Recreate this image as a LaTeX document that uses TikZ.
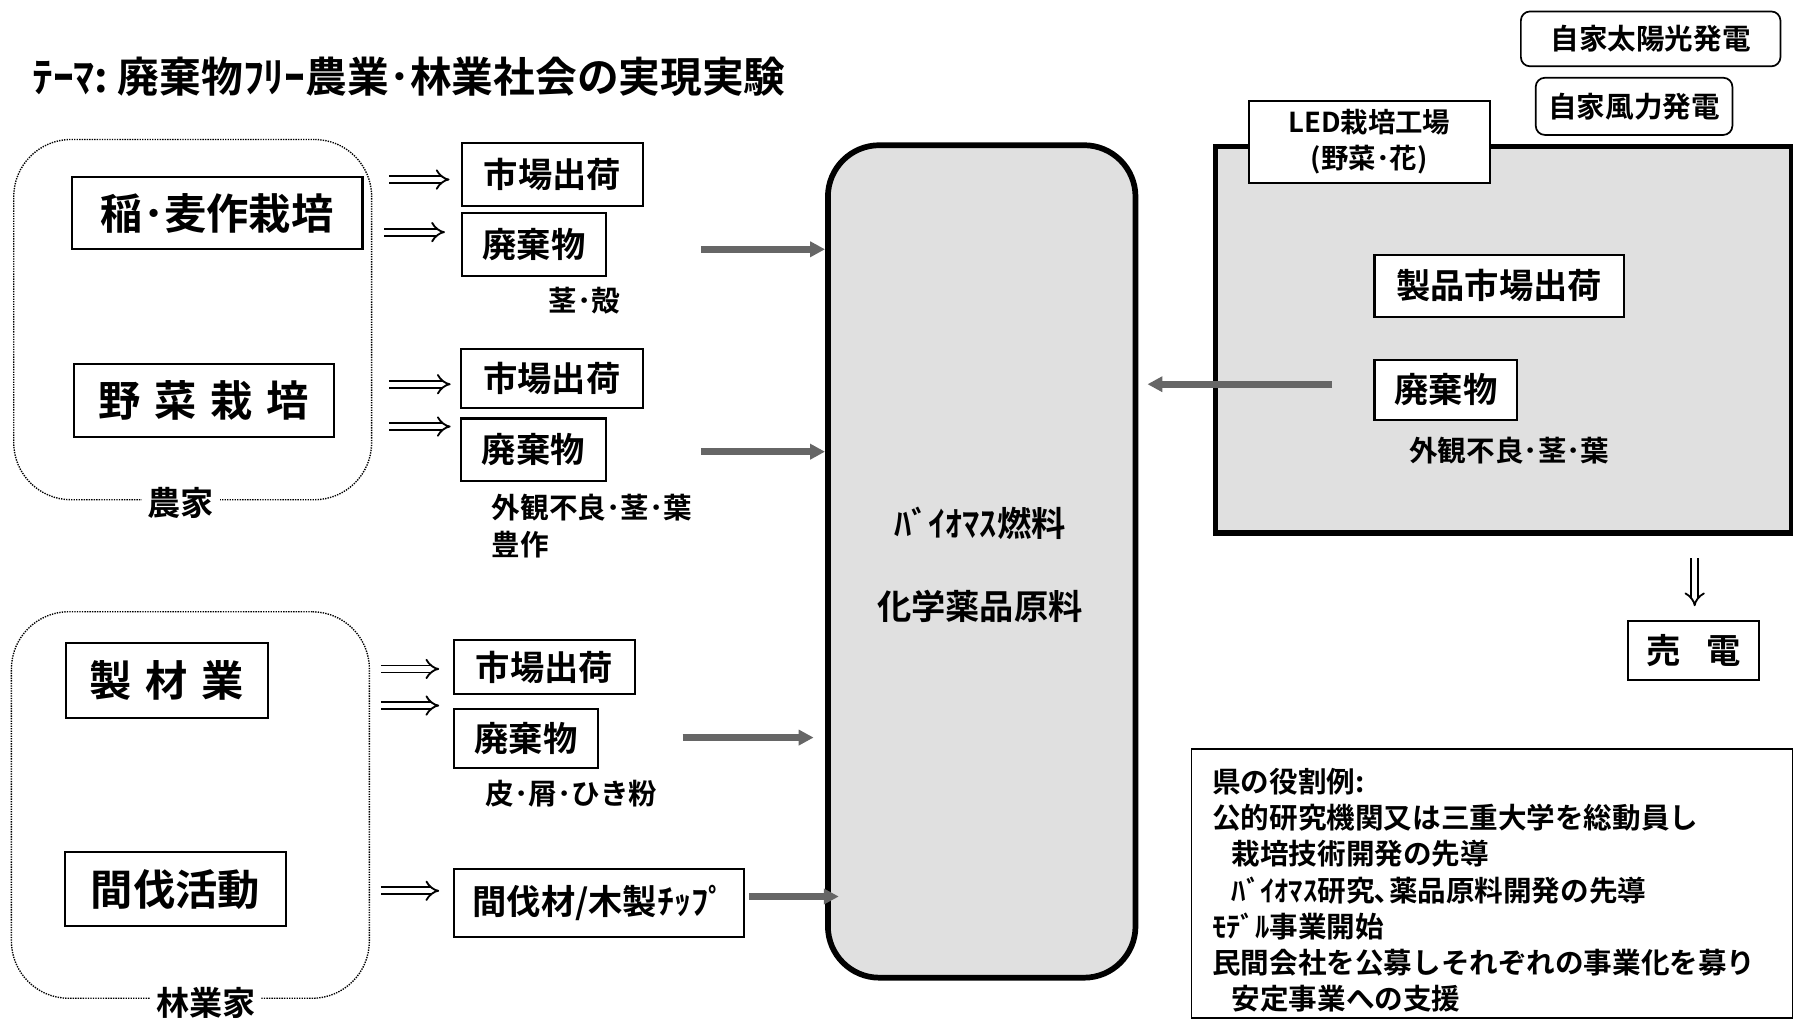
\documentclass[tikz,border=0pt]{standalone}
\usepackage{fontspec}
\setmainfont{Noto Sans CJK JP}[BoldFont={Noto Sans CJK JP Bold}]
\usetikzlibrary{arrows.meta}
\newcommand\fsz[2]{\fontsize{#1pt}{#2pt}\selectfont}
\begin{document}
\begin{tikzpicture}[x=1pt,y=-1pt,
  box/.style={draw, line width=1.8pt, fill=white, inner sep=0pt, font=\bfseries\fsz{30}{36}},
  bigbox/.style={box, font=\bfseries\fsz{37}{44}},
  rbox/.style={box, rounded corners=8pt, line width=1.5pt, font=\bfseries\fsz{25}{30}},
  group/.style={draw, densely dotted, line width=1.2pt, rounded corners=50pt, inner sep=0pt},
  grplbl/.style={fill=white, inner sep=5pt, font=\bfseries\fsz{29}{32}},
  lbl/.style={inner sep=0pt, font=\bfseries\fsz{25}{32}, align=left},
  stipple/.style={draw, line width=5pt, fill=black!12, inner sep=0pt},
  hollow/.style={draw, double, double distance=4.5pt, line width=1.6pt, -{Implies}},
  grayarrow/.style={draw=black!60, line width=6.5pt, -{Triangle[length=13pt,width=13pt]}}
]
\path[use as bounding box] (0,0) rectangle (1568,894);

% title
\node[anchor=west, inner sep=0pt, font=\bfseries\fsz{36.5}{42}] (title) at (28,67) {ﾃｰﾏ:~廃棄物ﾌﾘｰ農業･林業社会の実現実験};

% groups
\node[group, minimum width=313, minimum height=315] (farm) at (168.5,279.5) {};
\node[grplbl] (farmlbl) at (158,440) {農家};
\node[group, minimum width=313, minimum height=338] (forest) at (166.5,704) {};
\node[grplbl] (forestlbl) at (180,877) {林業家};

% left source boxes
\node[bigbox, minimum width=254, minimum height=63] (ine) at (190,186.5) {稲･麦作栽培};
\node[bigbox, minimum width=227, minimum height=64] (yasai) at (178.5,350) {野\hspace{12pt}菜\hspace{12pt}栽\hspace{12pt}培};
\node[bigbox, minimum width=176, minimum height=66] (seizai) at (146,595) {製\hspace{12pt}材\hspace{12pt}業};
\node[bigbox, minimum width=193, minimum height=65] (kanbatsu) at (153.5,777.5) {間伐活動};

% middle boxes
\node[box, minimum width=158, minimum height=55] (m1) at (483,152.5) {市場出荷};
\node[box, minimum width=126, minimum height=55] (w1) at (467,213.5) {廃棄物};
\node[lbl] (w1l) at (511,263) {茎･殻};
\node[box, minimum width=159, minimum height=52] (m2) at (482.5,331) {市場出荷};
\node[box, minimum width=127, minimum height=55] (w2) at (466.5,393.5) {廃棄物};
\node[lbl, anchor=north west] (w2l) at (430,432) {外観不良･茎･葉\\豊作};
\node[box, minimum width=158, minimum height=47] (m3) at (476,583.5) {市場出荷};
\node[box, minimum width=126, minimum height=52] (w3) at (460,646) {廃棄物};
\node[lbl] (w3l) at (500,694) {皮･屑･ひき粉};
\node[box, minimum width=254, minimum height=59] (chip) at (524,789.5) {間伐材/木製ﾁｯﾌﾟ};

% hollow arrows
\coordinate (h1) at (340,157);
\coordinate (h2) at (336,203);
\coordinate (h3) at (340,336);
\coordinate (h4) at (340,373);
\coordinate (h5) at (333,585);
\coordinate (h6) at (333,617);
\coordinate (h7) at (333,779);
\draw[hollow, shorten >=10pt] (h1) -- (h1 -| m1.west);
\draw[hollow, shorten >=14pt] (h2) -- (h2 -| w1.west);
\draw[hollow, shorten >=8pt] (h3) -- (h3 -| m2.west);
\draw[hollow, shorten >=8pt] (h4) -- (h4 -| w2.west);
\draw[hollow, shorten >=12pt] (h5) -- (h5 -| m3.west);
\draw[hollow, shorten >=12pt] (h6) -- (h6 -| w3.west);
\draw[hollow, shorten >=12pt] (h7) -- (h7 -| chip.west);

% central reactor
\node[stipple, rounded corners=45pt, minimum width=269, minimum height=728] (bio) at (858.5,491) {};
\node[inner sep=0pt, font=\bfseries\fsz{30}{34}] (bio1) at (857,458) {ﾊﾞｲｵﾏｽ燃料};
\node[inner sep=0pt, font=\bfseries\fsz{30}{34}] (bio2) at (857,530) {化学薬品原料};

% gray arrows into reactor
\coordinate (g1) at (613,218);
\coordinate (g2) at (613,395);
\coordinate (g3) at (597,645);
\coordinate (g4) at (655,784);
\draw[grayarrow] (g1) -- (g1 -| bio.west);
\draw[grayarrow] (g2) -- (g2 -| bio.west);
\draw[grayarrow, shorten >=10pt] (g3) -- (g3 -| bio.west);
\draw[grayarrow, shorten >=-12pt] (g4) -- (g4 -| bio.west);

% LED factory
\node[stipple, minimum width=504, minimum height=338] (factory) at (1315,297) {};
\node[box, font=\bfseries\fsz{24}{32}, align=center, minimum width=211, minimum height=72] (ledlbl) at (1197.5,124) {LED栽培工場\\(野菜･花)};
\node[box, minimum width=218, minimum height=54] (seihin) at (1311,250) {製品市場出荷};
\node[box, minimum width=125, minimum height=52] (w4) at (1264.5,341) {廃棄物};
\node[lbl] (w4l) at (1320,394) {外観不良･茎･葉};
\coordinate (g5) at (1165,336);
\draw[grayarrow, shorten >=8pt] (g5) -- (g5 -| bio.east);

% power
\node[rbox, minimum width=227, minimum height=48] (solar) at (1443.5,34) {自家太陽光発電};
\node[rbox, minimum width=172, minimum height=50] (wind) at (1429,93) {自家風力発電};
\coordinate (v0) at (1482,488);
\node[box, minimum width=114, minimum height=52] (baiden) at (1481,569) {売\hspace{22pt}電};
\draw[hollow, shorten >=12pt] (v0) -- (v0 |- baiden.north);

% role box
\node[draw, line width=1.5pt, inner sep=0pt, minimum width=526, minimum height=235] (role) at (1305,772.5) {};
\node[anchor=north west, inner sep=0pt, align=left, font=\bfseries\fsz{25}{31.5}] (roletext) at (1060,672) {%
県の役割例:\\
公的研究機関又は三重大学を総動員し\\
\hspace{17pt}栽培技術開発の先導\\
\hspace{17pt}ﾊﾞｲｵﾏｽ研究､薬品原料開発の先導\\
ﾓﾃﾞﾙ事業開始\\
民間会社を公募しそれぞれの事業化を募り\\
\hspace{17pt}安定事業への支援};
\end{tikzpicture}
\end{document}
